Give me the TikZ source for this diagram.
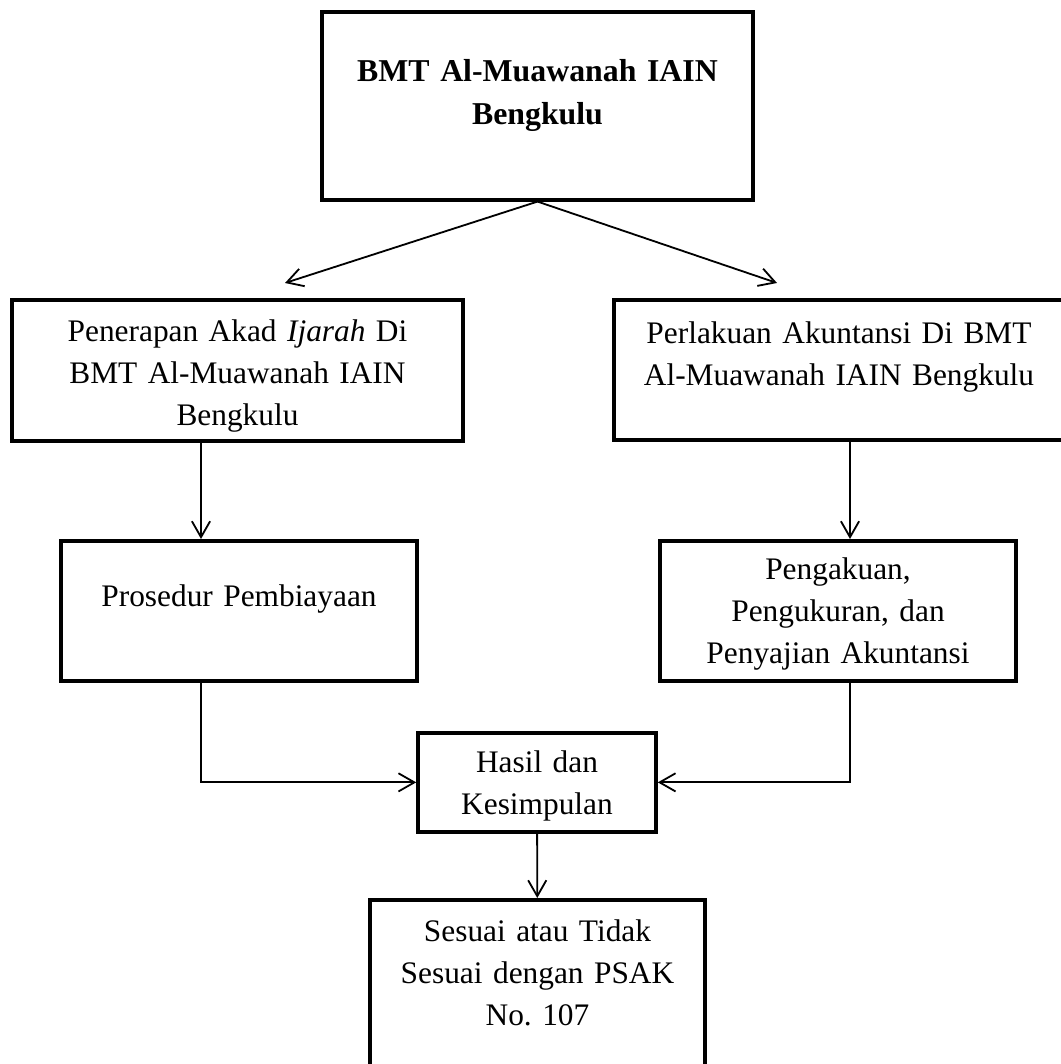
\documentclass[tikz,border=0pt]{standalone}
\usepackage{fontspec}
\setmainfont{Liberation Serif}
\usetikzlibrary{arrows.meta}
\frenchspacing

\begin{document}
\begin{tikzpicture}[
  x=0.44pt,y=-0.44pt,
  blk/.style={rectangle,draw,line width=1.6pt,inner sep=0pt,anchor=north,
              align=center,font=\fontsize{13.8}{18.4}\selectfont},
  arr/.style={-{Straight Barb[length=7pt,width=8pt]},line width=0.8pt}
]
  \useasboundingbox (0,0) rectangle (1060,1064);

  \node[blk,text width=189.6pt,text height=30.8pt,text depth=51.9pt,
        font=\fontsize{14}{19}\selectfont\bfseries] (bmt) at (537.5,10)
        {BMT Al-Muawanah IAIN\\Bengkulu};
  \node[blk,text width=198.5pt,text height=18.5pt,text depth=43.6pt] (akad) at (237.5,298)
        {Penerapan Akad \textit{Ijarah} Di\\BMT Al-Muawanah IAIN\\Bengkulu};
  \node[blk,text width=198pt,text height=19.4pt,text depth=42.2pt] (perlakuan) at (839,298)
        {Perlakuan Akuntansi Di BMT\\Al-Muawanah IAIN Bengkulu};
  \node[blk,text width=156.6pt,text height=29pt,text depth=32.6pt] (prosedur) at (239,539)
        {Prosedur Pembiayaan};
  \node[blk,text width=156.6pt,text height=17.2pt,text depth=44.4pt] (pengakuan) at (838,539)
        {Pengakuan,\\Pengukuran, dan\\Penyajian Akuntansi};
  \node[blk,text width=104.7pt,text height=17.6pt,text depth=26pt] (hasil) at (537,731)
        {Hasil dan\\Kesimpulan};
  \node[blk,text width=147.4pt,text height=18.5pt,text depth=65pt] (sesuai) at (537.5,898)
        {Sesuai atau Tidak\\Sesuai dengan PSAK\\No. 107};

  % ujung panah atas dan jalur kolom kiri/kanan
  \coordinate (tipL) at (285,283);
  \coordinate (tipR) at (777,283);
  \coordinate (lx) at (201,0);
  \coordinate (rx) at (850,0);

  \draw[arr] (bmt.south) -- (tipL);
  \draw[arr] (bmt.south) -- (tipR);
  \draw[arr] (akad.south -| lx) -- (prosedur.north -| lx);
  \draw[arr] (perlakuan.south -| rx) -- (pengakuan.north -| rx);
  \draw[arr] (prosedur.south -| lx) |- (hasil.west);
  \draw[arr] (pengakuan.south -| rx) |- (hasil.east);
  \draw[arr] (hasil) -- (sesuai);
\end{tikzpicture}
\end{document}
